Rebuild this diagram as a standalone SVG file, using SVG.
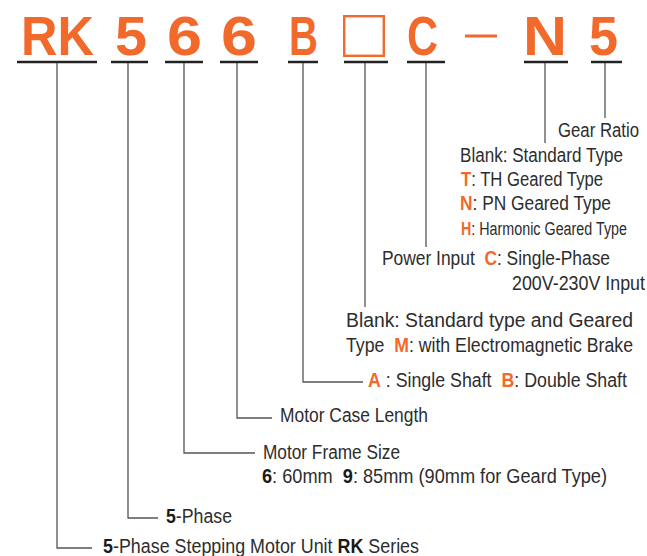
<svg xmlns="http://www.w3.org/2000/svg" width="647" height="556" viewBox="0 0 647 556">
<style>
.code{font-family:"Liberation Sans",Arial,sans-serif;font-weight:bold;font-size:56px;fill:#F26A2B}
.ul{stroke:#222;stroke-width:2.5;fill:none}
.con{stroke:#555;stroke-width:1.3;fill:none}
.lbl{font-family:"Liberation Sans",Arial,sans-serif;font-size:20px;fill:#2d2d2d}
.sm{font-size:18px}
.or{font-weight:bold;fill:#F26A2B}
.bk{font-weight:bold;fill:#1a1a1a}
</style>
<rect width="647" height="556" fill="#fff"/>
<g id="connectors">
<path class="con" d="M57 63V548H92"/>
<path class="con" d="M128 63V518H158"/>
<path class="con" d="M184 63V453H255"/>
<path class="con" d="M237 63V418H272"/>
<path class="con" d="M303 63V382H363"/>
<path class="con" d="M365 63V307"/>
<path class="con" d="M426 63V247"/>
<path class="con" d="M545 63V143"/>
<path class="con" d="M605 63V118"/>
</g>
<g id="node-rk">
<text class="code" x="21" y="55" textLength="73" lengthAdjust="spacingAndGlyphs">RK</text>
<line class="ul" x1="17" y1="62" x2="97" y2="62"/>
<text class="lbl" x="103" y="553" textLength="316" lengthAdjust="spacingAndGlyphs"><tspan class="bk">5</tspan>-Phase Stepping Motor Unit <tspan class="bk">RK</tspan> Series</text>
</g>
<g id="node-phase">
<text class="code" x="115" y="55" textLength="32" lengthAdjust="spacingAndGlyphs">5</text>
<line class="ul" x1="111" y1="62" x2="148" y2="62"/>
<text class="lbl" x="166" y="523" textLength="66" lengthAdjust="spacingAndGlyphs"><tspan class="bk">5</tspan>-Phase</text>
</g>
<g id="node-frame">
<text class="code" x="167" y="55" textLength="35" lengthAdjust="spacingAndGlyphs">6</text>
<line class="ul" x1="165" y1="62" x2="203" y2="62"/>
<text class="lbl" x="263" y="459" textLength="137" lengthAdjust="spacingAndGlyphs">Motor Frame Size</text>
<text class="lbl" x="262" y="483" textLength="345" lengthAdjust="spacingAndGlyphs"><tspan class="bk">6</tspan>: 60mm&#160; <tspan class="bk">9</tspan>: 85mm (90mm for Geard Type)</text>
</g>
<g id="node-case">
<text class="code" x="221" y="55" textLength="36" lengthAdjust="spacingAndGlyphs">6</text>
<line class="ul" x1="220" y1="62" x2="258" y2="62"/>
<text class="lbl" x="280" y="422" textLength="148" lengthAdjust="spacingAndGlyphs">Motor Case Length</text>
</g>
<g id="node-shaft">
<text class="code" x="289" y="55" textLength="29" lengthAdjust="spacingAndGlyphs">B</text>
<line class="ul" x1="288" y1="62" x2="318" y2="62"/>
<text class="lbl" x="368" y="387" textLength="259" lengthAdjust="spacingAndGlyphs"><tspan class="or">A</tspan> : Single Shaft&#160; <tspan class="or">B</tspan>: Double Shaft</text>
</g>
<g id="node-brake">
<rect x="344.2" y="16.2" width="39.6" height="39.6" fill="none" stroke="#F26A2B" stroke-width="2.4"/>
<line class="ul" x1="344" y1="62" x2="388" y2="62"/>
<text class="lbl" x="346" y="327" textLength="287" lengthAdjust="spacingAndGlyphs">Blank: Standard type and Geared</text>
<text class="lbl" x="346" y="352" textLength="287" lengthAdjust="spacingAndGlyphs">Type&#160; <tspan class="or">M</tspan>: with Electromagnetic Brake</text>
</g>
<g id="node-power">
<text class="code" x="407" y="55" textLength="31" lengthAdjust="spacingAndGlyphs">C</text>
<line class="ul" x1="407" y1="62" x2="445" y2="62"/>
<text class="lbl" x="382" y="265" textLength="228" lengthAdjust="spacingAndGlyphs">Power Input&#160; <tspan class="or">C</tspan>: Single-Phase</text>
<text class="lbl" x="512" y="290" textLength="133" lengthAdjust="spacingAndGlyphs">200V-230V Input</text>
</g>
<g id="node-dash">
<line x1="465" y1="36" x2="497" y2="36" stroke="#F26A2B" stroke-width="3"/>
</g>
<g id="node-gear">
<text class="code" x="523" y="55" textLength="44" lengthAdjust="spacingAndGlyphs">N</text>
<line class="ul" x1="524" y1="62" x2="568" y2="62"/>
<text class="lbl" x="460" y="162" textLength="163" lengthAdjust="spacingAndGlyphs">Blank: Standard Type</text>
<text class="lbl" x="461" y="186" textLength="142" lengthAdjust="spacingAndGlyphs"><tspan class="or">T</tspan>: TH Geared Type</text>
<text class="lbl" x="460" y="210" textLength="151" lengthAdjust="spacingAndGlyphs"><tspan class="or">N</tspan>: PN Geared Type</text>
<text class="lbl sm" x="461" y="235" textLength="166" lengthAdjust="spacingAndGlyphs"><tspan class="or">H</tspan>: Harmonic Geared Type</text>
</g>
<g id="node-ratio">
<text class="code" x="589" y="55" textLength="29" lengthAdjust="spacingAndGlyphs">5</text>
<line class="ul" x1="591" y1="62" x2="622" y2="62"/>
<text class="lbl" x="558" y="137" textLength="81" lengthAdjust="spacingAndGlyphs">Gear Ratio</text>
</g>
</svg>
